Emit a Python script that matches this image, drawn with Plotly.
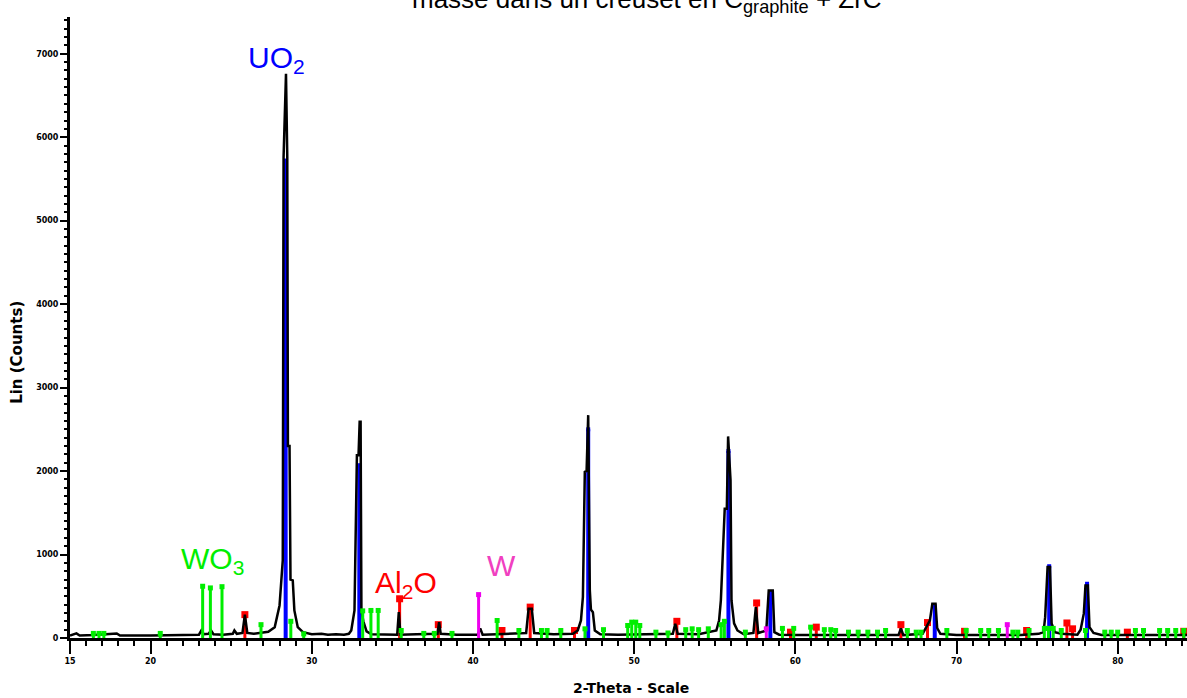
import plotly.graph_objects as go

two_theta = [15.0, 15.4, 15.6, 16.5, 17.9, 18.1, 20.0, 22.0, 23.0, 23.15, 23.3, 23.6, 23.75, 23.9,
             24.5, 25.1, 25.2, 25.35, 25.7, 25.85, 26.0, 26.4, 26.9, 27.3, 27.7, 28.0, 28.2,
             28.25, 28.4, 28.48, 28.52, 28.62, 28.68, 28.82, 28.92, 29.13, 29.45, 30.0, 30.6,
             31.0, 31.5, 32.0, 32.3, 32.45, 32.65, 32.8, 32.9, 32.97, 33.03, 33.08, 33.2, 33.4,
             33.7, 34.5, 35.3, 35.4, 35.5, 36.5, 37.8, 37.9, 38.0, 39.0, 40.3, 40.45, 40.6,
             41.5, 43.3, 43.45, 43.65, 43.8, 45.0, 46.2, 46.5, 46.7, 46.82, 46.94, 47.05,
             47.15, 47.25, 47.32, 47.44, 47.56, 47.9, 49.0, 51.0, 52.4, 52.55, 52.7, 54.0,
             55.1, 55.27, 55.38, 55.62, 55.75, 55.83, 55.98, 56.04, 56.2, 56.41, 56.8, 57.4,
             57.55, 57.7, 58.2, 58.35, 58.6, 58.7, 59.0, 60.0, 62.0, 64.0, 66.4, 66.55, 66.7,
             67.9, 68.1, 68.35, 68.5, 68.7, 68.8, 69.0, 70.0, 72.0, 74.0, 75.1, 75.4, 75.5,
             75.65, 75.8, 75.9, 76.1, 76.5, 77.5, 77.7, 77.9, 78.0, 78.15, 78.25, 78.5, 79.0,
             82.0, 84.3]
counts = [30, 55, 30, 35, 55, 30, 30, 35, 40, 90, 45, 50, 90, 45,
          40, 50, 90, 50, 60, 280, 60, 50, 60, 75, 130, 390, 930,
          5760, 6760, 5760, 2300, 2300, 700, 690, 330, 130, 70, 45, 50,
          40, 45, 40, 50, 90, 330, 2190, 2190, 2590, 2590, 330, 200, 80,
          45, 40, 40, 310, 40, 45, 50, 190, 50, 40, 40, 115, 40,
          45, 60, 350, 350, 60, 45, 50, 90, 210, 490, 1990, 2000,
          2670, 570, 340, 310, 90, 45, 40, 45, 50, 170, 50, 45,
          90, 210, 450, 1550, 1550, 2415, 1890, 450, 175, 90, 45, 60,
          370, 60, 90, 570, 570, 70, 40, 35, 35, 35, 35, 115, 35,
          50, 130, 210, 410, 410, 120, 50, 35, 35, 35, 50, 70, 250,
          850, 850, 175, 70, 50, 40, 100, 295, 630, 630, 130, 60, 35,
          35, 35]

# reference sticks
uo2_pos = [28.38, 32.95, 47.15, 55.85, 58.45, 68.65, 75.75, 78.1]
uo2_int = [5720, 2070, 2500, 2240, 550, 380, 860, 650]

wo3_pos = [23.23, 23.71, 24.43, 33.16, 33.67, 34.12, 16.45, 16.8, 17.1, 20.6, 26.85, 28.7,
           29.5, 35.55, 36.95, 37.6, 38.7, 41.5, 42.85, 44.25, 44.6, 45.45, 46.95, 48.1,
           49.6, 49.85, 50.1, 50.35, 51.35, 52.1, 53.2, 53.6, 54.0, 54.6, 55.4, 55.6, 56.9,
           59.2, 59.9, 60.95, 61.8, 62.2, 62.5, 63.3, 63.9, 64.5, 65.1, 65.6, 66.95, 67.5,
           67.8, 69.4, 70.6, 71.5, 72.0, 72.6, 73.5, 73.8, 74.5, 75.45, 75.7, 76.0, 76.5,
           78.0, 79.2, 79.6, 80.0, 81.1, 81.6, 82.6, 83.1, 83.6, 84.1]
wo3_int = [620, 600, 615, 325, 330, 330, 55, 55, 55, 55, 160, 200,
           50, 90, 55, 55, 55, 210, 90, 90, 90, 90, 110, 100,
           150, 190, 190, 150, 70, 60, 100, 110, 100, 110, 160, 200, 70,
           115, 115, 130, 100, 100, 90, 70, 70, 70, 70, 90, 90, 70,
           70, 90, 90, 90, 90, 90, 70, 70, 90, 115, 115, 115, 90,
           90, 70, 70, 70, 90, 90, 90, 90, 90, 90]

al2o_pos = [25.85, 35.45, 37.85, 41.8, 43.55, 46.3, 52.65, 57.6, 59.7, 61.3, 66.55, 68.2,
            70.5, 74.35, 76.85, 77.2, 80.6, 84.1]
al2o_int = [280, 470, 160, 90, 370, 90, 200, 420, 70, 130, 160, 185,
            80, 90, 180, 110, 70, 80]

w_pos = [40.35, 58.2, 73.15]
w_int = [520, 110, 160]

x_major = [15, 20, 30, 40, 50, 60, 70, 80]
x_mid = [25, 35, 45, 55, 65, 75]


def sticks(pos, inten):
    xs, ys = [], []
    for p, h in zip(pos, inten):
        xs += [p, p, None]
        ys += [0, h, None]
    return xs, ys


fig = go.Figure()

# UO2 (blue)
sx, sy = sticks(uo2_pos, uo2_int)
fig.add_trace(go.Scatter(x=sx, y=sy, mode="lines", line=dict(color="#0000FF", width=4)))
fig.add_trace(go.Scatter(x=uo2_pos, y=uo2_int, mode="markers",
                         marker=dict(symbol="square", size=4, color="#0000FF")))

# Al2O (red)
sx, sy = sticks(al2o_pos, al2o_int)
fig.add_trace(go.Scatter(x=sx, y=sy, mode="lines", line=dict(color="#FF0000", width=3)))
fig.add_trace(go.Scatter(x=al2o_pos, y=al2o_int, mode="markers",
                         marker=dict(symbol="square", size=7, color="#FF0000")))

# measured pattern
fig.add_trace(go.Scatter(x=two_theta, y=counts, mode="lines",
                         line=dict(color="black", width=2.5)))

# WO3 (green)
sx, sy = sticks(wo3_pos, wo3_int)
fig.add_trace(go.Scatter(x=sx, y=sy, mode="lines", line=dict(color="#00EE00", width=3)))
fig.add_trace(go.Scatter(x=wo3_pos, y=wo3_int, mode="markers",
                         marker=dict(symbol="square", size=5, color="#00EE00")))

# W (magenta)
sx, sy = sticks(w_pos, w_int)
fig.add_trace(go.Scatter(x=sx, y=sy, mode="lines", line=dict(color="#EE00EE", width=3)))
fig.add_trace(go.Scatter(x=w_pos, y=w_int, mode="markers",
                         marker=dict(symbol="square", size=5, color="#EE00EE")))

tickfont = dict(family="DejaVu Sans", size=8, color="black", weight="bold")
labfont_y = dict(family="DejaVu Sans", size=15, color="black", weight="bold")
labfont_x = dict(family="DejaVu Sans", size=14, color="black", weight="bold")

fig.update_layout(
    width=1187, height=698,
    margin=dict(l=70, r=0, t=17, b=60),
    plot_bgcolor="white", paper_bgcolor="white",
    showlegend=False,
    xaxis=dict(range=[15, 84.3], showgrid=False, zeroline=False,
               showline=True, linecolor="black", linewidth=3,
               tickmode="array", tickvals=x_major,
               ticks="outside", ticklen=13, tickwidth=2, tickcolor="black",
               tickfont=tickfont,
               minor=dict(dtick=1, tick0=15, ticks="outside", ticklen=5,
                          tickwidth=2, tickcolor="black")),
    xaxis2=dict(range=[15, 84.3], overlaying="x", anchor="y", side="bottom",
                showgrid=False, zeroline=False, showline=False, showticklabels=False,
                tickmode="array", tickvals=x_mid,
                ticks="outside", ticklen=10, tickwidth=2, tickcolor="black"),
    yaxis=dict(range=[0, 7440], showgrid=False, zeroline=False,
               showline=True, linecolor="black", linewidth=3,
               tick0=0, dtick=1000, ticks="outside", ticklen=7, tickwidth=2,
               tickcolor="black", tickfont=tickfont,
               minor=dict(dtick=100, ticks="outside", ticklen=3,
                          tickwidth=2, tickcolor="black")),
    yaxis2=dict(range=[0, 7440], overlaying="y", anchor="x", side="left",
                showgrid=False, zeroline=False, showline=False, showticklabels=False,
                tick0=500, dtick=1000, ticks="outside", ticklen=5, tickwidth=2,
                tickcolor="black"),
)

# title sits partly above the top edge, as in the original
fig.add_annotation(text="masse dans un creuset en C<sub>graphite</sub> + ZrC",
                   xref="paper", yref="paper", x=0.517, y=0.997, xanchor="center",
                   yanchor="bottom", showarrow=False,
                   font=dict(family="Liberation Sans", size=26, color="black"))
fig.add_annotation(text="Lin (Counts)", textangle=-90,
                   xref="paper", yref="paper", x=-0.047, y=0.46,
                   xanchor="center", yanchor="middle", showarrow=False, font=labfont_y)
fig.add_annotation(text="2-Theta - Scale",
                   xref="paper", yref="paper", x=0.502, y=-0.081,
                   xanchor="center", yanchor="middle", showarrow=False, font=labfont_x)

fig.add_annotation(text="UO<sub>2</sub>", x=27.84, y=6930, showarrow=False,
                   font=dict(family="Liberation Sans", size=30, color="#0000FF"))
fig.add_annotation(text="WO<sub>3</sub>", x=23.81, y=930, showarrow=False,
                   font=dict(family="Liberation Sans", size=30, color="#00EE00"))
fig.add_annotation(text="Al<sub>2</sub>O", x=35.84, y=643, showarrow=False,
                   font=dict(family="Liberation Sans", size=30, color="#FF0000"))
fig.add_annotation(text="W", x=41.74, y=870, showarrow=False,
                   font=dict(family="Liberation Sans", size=30, color="#F040C0"))

# drop the default 8 px page margin so the figure fills the window
fig.write_html("out.html", config={"displayModeBar": False},
               post_script="document.body.style.margin='0';")
